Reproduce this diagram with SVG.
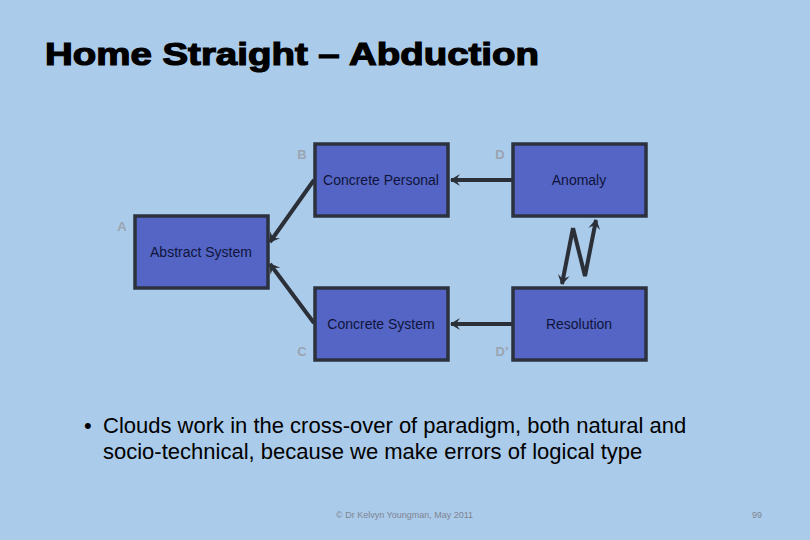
<svg xmlns="http://www.w3.org/2000/svg" width="810" height="540" viewBox="0 0 810 540">
<defs>
<style>
.bg{fill:#abcbea}
.box{fill:#5465c5;stroke:#2b323e;stroke-width:3.5}
.lbl{font-family:"Liberation Sans",Arial,sans-serif;font-size:14px;fill:#10143a;text-anchor:middle}
.tag{font-family:"Liberation Sans",Arial,sans-serif;font-size:13px;fill:#9aa4b0;font-weight:bold;text-anchor:middle}
.conn{fill:none;stroke:#2b3038;stroke-width:4;stroke-linejoin:miter}
.body{font-family:"Liberation Sans",Arial,sans-serif;font-size:22px;fill:#000}
.foot{font-family:"Liberation Sans",Arial,sans-serif;font-size:9px;fill:#7d8590}
</style>
<marker id="ah" markerWidth="12" markerHeight="12" refX="9" refY="6" orient="auto" markerUnits="userSpaceOnUse" viewBox="0 0 12 12">
<path d="M0,0 L10,6 L0,12 L4,6 Z" fill="#2b3038"/>
</marker>
</defs>
<rect class="bg" x="0" y="0" width="810" height="540"/>
<text x="45" y="65" font-family="'Liberation Sans',Arial,sans-serif" font-size="31" font-weight="bold" stroke="#000" stroke-width="1.2" fill="#000" textLength="494" lengthAdjust="spacingAndGlyphs">Home Straight – Abduction</text>

<g id="connectors">
<line class="conn" x1="513" y1="180" x2="451" y2="180" marker-end="url(#ah)"/>
<line class="conn" x1="513" y1="324" x2="451" y2="324" marker-end="url(#ah)"/>
<line class="conn" x1="314" y1="180" x2="270" y2="242" marker-end="url(#ah)"/>
<line class="conn" x1="314" y1="323" x2="270" y2="264" marker-end="url(#ah)"/>
<polyline class="conn" points="573,228 562,284" marker-end="url(#ah)"/>
<polyline class="conn" points="573,228 585,276 596,220" marker-end="url(#ah)"/>
</g>

<g id="node-a">
<rect class="box" x="135" y="216" width="133" height="72"/>
<text class="lbl" x="201" y="257">Abstract System</text>
<text class="tag" x="122" y="231">A</text>
</g>
<g id="node-b">
<rect class="box" x="315" y="144" width="133" height="72"/>
<text class="lbl" x="381" y="185">Concrete Personal</text>
<text class="tag" x="302" y="159">B</text>
</g>
<g id="node-c">
<rect class="box" x="315" y="288" width="133" height="72"/>
<text class="lbl" x="381" y="329">Concrete System</text>
<text class="tag" x="302" y="356">C</text>
</g>
<g id="node-d">
<rect class="box" x="513" y="144" width="133" height="72"/>
<text class="lbl" x="579" y="185">Anomaly</text>
<text class="tag" x="500" y="159">D</text>
</g>
<g id="node-d2">
<rect class="box" x="513" y="288" width="133" height="72"/>
<text class="lbl" x="579" y="329">Resolution</text>
<text class="tag" x="502" y="356">D’</text>
</g>

<text class="body" x="84" y="433">•</text>
<text class="body" x="103" y="433">Clouds work in the cross-over of paradigm, both natural and</text>
<text class="body" x="103" y="459">socio-technical, because we make errors of logical type</text>

<text class="foot" x="336" y="518">© Dr Kelvyn Youngman, May 2011</text>
<text class="foot" x="752" y="518">99</text>
</svg>
